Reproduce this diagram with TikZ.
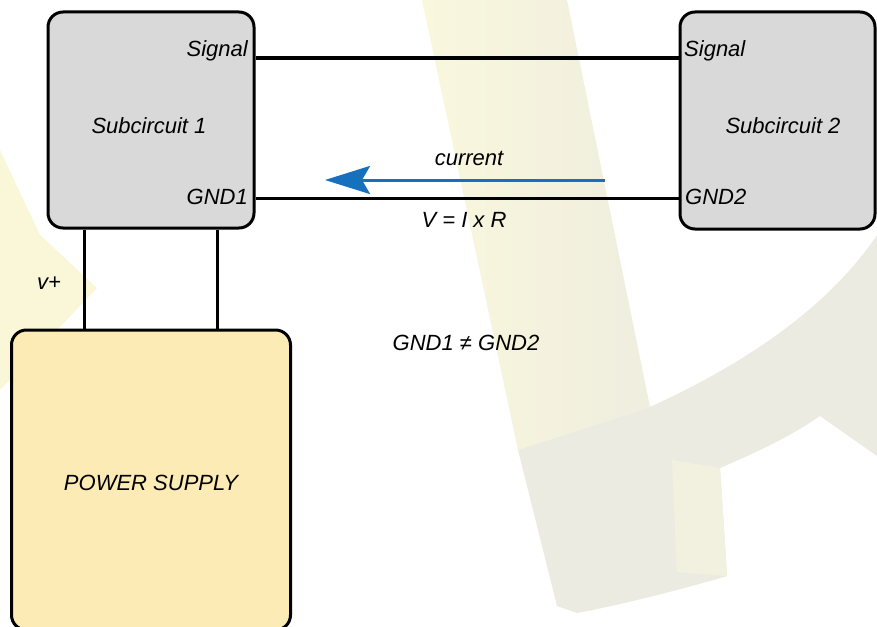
\documentclass[tikz,border=0pt]{standalone}
\usepackage{fontspec}
\setmainfont{Liberation Sans}
\usetikzlibrary{arrows.meta}
\definecolor{boxgray}{HTML}{D9D9D9}
\definecolor{psyellow}{HTML}{FDEBB5}
\definecolor{arrowblue}{HTML}{1670BE}
\definecolor{wmyellow}{HTML}{F9F7DC}
\definecolor{wmyellowR}{HTML}{EFEEDF}
\definecolor{wmgray}{HTML}{ECEBE1}
\definecolor{wmlight}{HTML}{F2F1DF}
\definecolor{wmleft}{HTML}{FAF7D9}
\tikzset{
  block/.style={draw=black, line width=3pt, rounded corners=15pt, inner sep=0pt},
  wire/.style={draw=black, line width=3pt},
  lbl/.style={font=\itshape\fontsize{22}{24}\selectfont, inner sep=0pt, text=black},
  current/.style={draw=arrowblue, line width=3pt, -{Stealth[length=45pt,width=28pt,inset=8pt]}}
}
\begin{document}
\begin{tikzpicture}[x=1pt,y=-1pt]
\useasboundingbox (0,0) rectangle (877,626);
\clip (0,0) rectangle (877,626);
\fill[white] (0,0) rectangle (877,626);
% watermark
\shade[left color=wmyellow, right color=wmyellowR] (422,0) -- (567,0) -- (650,407) -- (518,450) -- cycle;
\fill[wmgray] (518,450) -- (650,407) .. controls (720,375) and (820,320) .. (877,235) -- (877,456) -- (820,416) .. controls (785,440) and (750,455) .. (720,468) -- (727,576) .. controls (680,590) and (620,605) .. (577,613) -- (557,606) -- cycle;
\fill[wmlight] (672,460) -- (720,468) -- (727,576) -- (677,572) -- cycle;
\fill[wmleft] (0,150) -- (40,235) -- (97,288) -- (0,390) -- cycle;
% blocks
\node[block, fill=boxgray, minimum width=206pt, minimum height=216pt] (sub1) at (151,120) {};
\node[block, fill=boxgray, minimum width=195pt, minimum height=217pt] (sub2) at (777.5,120.5) {};
\node[block, fill=psyellow, minimum width=279pt, minimum height=300pt] (ps) at (151,480) {};
% connectors
\draw[wire] (sub1.east |- 0,58) -- (sub2.west |- 0,58);
\draw[wire] (sub1.east |- 0,198) -- (sub2.west |- 0,198);
\draw[wire] (sub1.south -| 84,0) -- (ps.north -| 84,0);
\draw[wire] (sub1.south -| 217,0) -- (ps.north -| 217,0);
\coordinate (cs) at (605,180);
\coordinate (ce) at (325,180);
\draw[current] (cs) -- (ce);
% labels
\node[lbl, anchor=east] (sig1) at (248,51) {Signal};
\node[lbl] (t1) at (149,126) {Subcircuit 1};
\node[lbl, anchor=east] (g1) at (248,197) {GND1};
\node[lbl, anchor=west] (sig2) at (684,51) {Signal};
\node[lbl] (t2) at (783,126) {Subcircuit 2};
\node[lbl, anchor=west] (g2) at (685,197) {GND2};
\node[lbl] (cur) at (469,158) {current};
\node[lbl] (vir) at (464,220) {V = I x R};
\node[lbl] (vp) at (49,283) {v+};
\node[lbl] (neq) at (466,343) {GND1 ≠ GND2};
\node[lbl] (pst) at (151,483) {POWER SUPPLY};
\end{tikzpicture}
\end{document}
